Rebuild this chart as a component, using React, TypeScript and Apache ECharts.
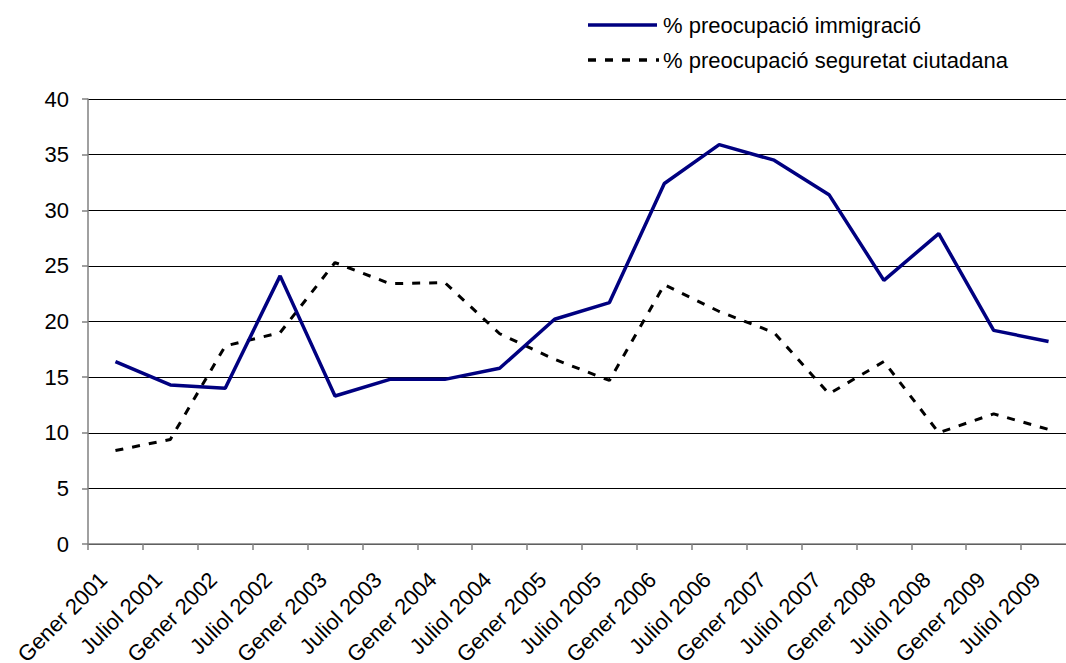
import React, { useEffect, useRef } from "react";
import * as echarts from "echarts";

const categories = [
  "Gener 2001", "Juliol 2001", "Gener 2002", "Juliol 2002", "Gener 2003", "Juliol 2003",
  "Gener 2004", "Juliol 2004", "Gener 2005", "Juliol 2005", "Gener 2006", "Juliol 2006",
  "Gener 2007", "Juliol 2007", "Gener 2008", "Juliol 2008", "Gener 2009", "Juliol 2009",
];
const immigracio = [16.4, 14.3, 14.0, 24.1, 13.3, 14.8, 14.8, 15.8, 20.2, 21.7, 32.4, 35.9, 34.5, 31.4, 23.7, 27.9, 19.2, 18.2];
const seguretat = [8.4, 9.4, 17.8, 19.0, 25.3, 23.4, 23.5, 18.9, 16.6, 14.7, 23.3, 20.9, 19.0, 13.5, 16.4, 10.0, 11.7, 10.3];
const seriesNames = ["% preocupació immigració", "% preocupació seguretat ciutadana"];

const FONT = "'Liberation Sans', Arial, sans-serif";

export default function App() {
  const ref = useRef<HTMLDivElement>(null);
  useEffect(() => {
    if (!ref.current) return;
    const chart = echarts.init(ref.current, undefined, { renderer: "svg" });
    chart.setOption({
      animation: false,
      backgroundColor: "#ffffff",
      textStyle: { fontFamily: FONT },
      grid: { left: 88, top: 99, width: 988, height: 445, containLabel: false, outerBoundsMode: "none" },
      xAxis: {
        type: "category",
        data: categories,
        boundaryGap: true,
        axisLine: { lineStyle: { color: "#808080", width: 1.5 } },
        axisTick: { show: true, length: 6, inside: false, lineStyle: { color: "#808080", width: 1.5 } },
        axisLabel: {
          rotate: 45,
          interval: 0,
          margin: 20,
          padding: [0, 17, 0, 0],
          fontSize: 22,
          color: "#000",
          fontFamily: FONT,
        },
        splitLine: { show: false },
      },
      yAxis: {
        type: "value",
        min: 0,
        max: 40,
        interval: 5,
        axisLine: { show: true, lineStyle: { color: "#808080", width: 1.5 } },
        axisTick: { show: true, length: 6, lineStyle: { color: "#808080", width: 1.5 } },
        axisLabel: { fontSize: 22, color: "#000", margin: 19, fontFamily: FONT },
        splitLine: { show: true, lineStyle: { color: "#000", width: 1 } },
      },
      series: [
        {
          name: seriesNames[0],
          type: "line",
          data: immigracio,
          symbol: "none",
          lineStyle: { color: "#000080", width: 3.5 },
          z: 3,
        },
        {
          name: seriesNames[1],
          type: "line",
          data: seguretat,
          symbol: "none",
          lineStyle: { color: "#000", width: 3, type: [8, 9] },
          z: 2,
        },
      ],
      graphic: [
        { type: "line", shape: { x1: 588, y1: 25, x2: 657, y2: 25 }, style: { stroke: "#000080", lineWidth: 3.5 } },
        {
          type: "text", x: 663, y: 25,
          style: { text: seriesNames[0], fontSize: 22, fill: "#000", fontFamily: FONT, verticalAlign: "middle", align: "left" },
        },
        { type: "line", shape: { x1: 588, y1: 60, x2: 659, y2: 60 }, style: { stroke: "#000", lineWidth: 3.5, lineDash: [8, 9] } },
        {
          type: "text", x: 663, y: 60,
          style: { text: seriesNames[1], fontSize: 22, fill: "#000", fontFamily: FONT, verticalAlign: "middle", align: "left" },
        },
      ],
    });
    return () => chart.dispose();
  }, []);
  return (
    <div style={{ position: "absolute", left: 0, top: 0, width: 1066, height: 663, overflow: "hidden" }}>
      <div ref={ref} style={{ width: 1090, height: 663 }} />
    </div>
  );
}
